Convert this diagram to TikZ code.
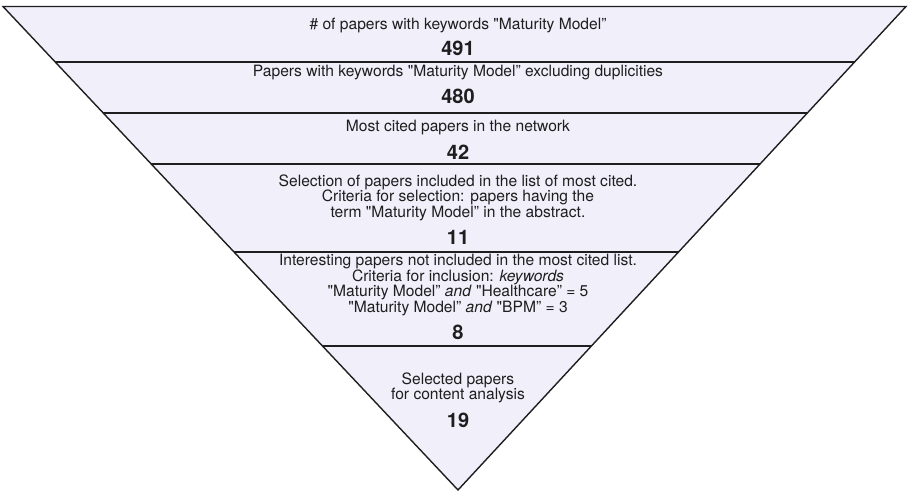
\documentclass[tikz,border=0pt]{standalone}
\usepackage{fontspec}
\setmainfont{TeX Gyre Heros}
\usepackage{tikz}
\usetikzlibrary{calc}
\definecolor{funnelfill}{RGB}{240,239,250}
\definecolor{funnelink}{HTML}{1E1E1E}
\newcommand{\oq}{\textquotedbl}

\begin{document}
\begin{tikzpicture}[x=1pt,y=-1pt,font=\fontsize{15.6}{15.5}\selectfont,
    bandtext/.style={text=funnelink,align=center,inner sep=0pt},
    bandnum/.style={text=funnelink,font=\fontsize{20}{22}\selectfont\bfseries,inner sep=0pt}]
    \useasboundingbox (0,0) rectangle (908,492);
    \coordinate (tl) at (3,6.5);
    \coordinate (tr) at (906,6.5);
    \coordinate (apex) at (458,490);
    \fill[funnelfill] (tl) -- (tr) -- (apex) -- cycle;
    \foreach \y in {62,113,164,252,346}{
      \draw[funnelink,line width=1.4pt] ($(tl)!{(\y-6.5)/483.5}!(apex)$) -- ($(tr)!{(\y-6.5)/483.5}!(apex)$);
    }
    \draw[funnelink,line width=1.4pt,line join=miter] (tl) -- (tr) -- (apex) -- cycle;
    \node[bandtext] (keyword) at (458,25) {\# of papers with keywords \oq Maturity Model”};
    \node[bandnum] (keywordnum) at (458,48.5) {491};
    \node[bandtext] (nodup) at (458,72.5) {Papers with keywords \oq Maturity Model” excluding duplicities};
    \node[bandnum] (nodupnum) at (458,96.5) {480};
    \node[bandtext] (cited) at (458,128) {Most cited papers in the network};
    \node[bandnum] (citednum) at (458,152) {42};
    \node[bandtext] (abstract) at (458,197.5) {Selection of papers included in the list of most cited.\\Criteria for selection: papers having the\\term \oq Maturity Model” in the abstract.};
    \node[bandnum] (abstractnum) at (458,237) {11};
    \node[bandtext] (extra) at (458,285) {Interesting papers not included in the most cited list.\\Criteria for inclusion: \textit{keywords}\\\oq Maturity Model” \textit{and} \oq Healthcare” = 5\\\oq Maturity Model” \textit{and} \oq BPM” = 3};
    \node[bandnum] (extranum) at (458,332) {8};
    \node[bandtext] (final) at (458,388) {Selected papers\\for content analysis};
    \node[bandnum] (finalnum) at (458,420) {19};
\end{tikzpicture}
\end{document}
